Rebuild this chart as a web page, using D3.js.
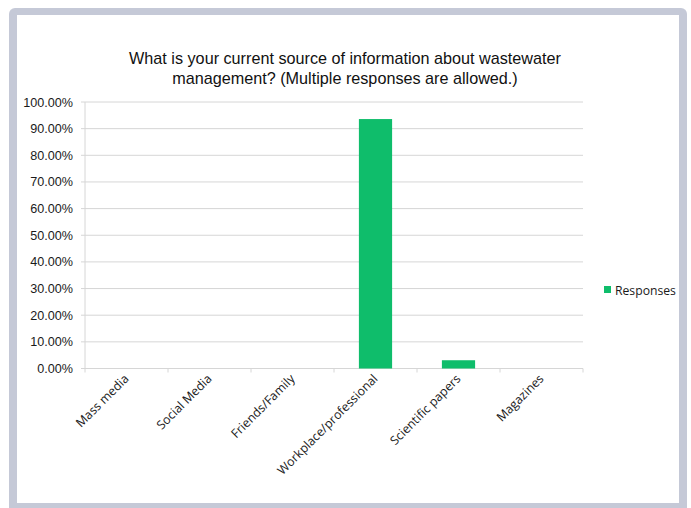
<!DOCTYPE html>
<html>
<head>
<meta charset="utf-8">
<script src="https://cdn.jsdelivr.net/npm/d3@7"></script>
<style>
  html, body { margin: 0; padding: 0; background: #ffffff; }
  svg { display: block; }
</style>
</head>
<body>
<svg id="chart" width="691" height="508"></svg>
<script>
// Survey data: share of respondents per information source
const categories = ["Mass media", "Social Media", "Friends/Family", "Workplace/professional", "Scientific papers", "Magazines"];
const responses = [0, 0, 0, 93.6, 3.1, 0];
const yTicks = [0, 10, 20, 30, 40, 50, 60, 70, 80, 90, 100];
const titleLines = ["What is your current source of information about wastewater", "management? (Multiple responses are allowed.)"];
const seriesName = "Responses";

const svg = d3.select("#chart");
const W = 691, H = 508;

// Frame around the chart panel
svg.append("rect").attr("x", 0).attr("y", 0).attr("width", W).attr("height", H).attr("fill", "#ffffff");
svg.append("rect").attr("x", 9).attr("y", 8).attr("width", 678).attr("height", 510)
  .attr("rx", 6).attr("fill", "#c5c9d7");
svg.append("rect").attr("x", 17).attr("y", 15).attr("width", 662).attr("height", 488)
  .attr("fill", "#ffffff");

const margin = { left: 85, right: 583, top: 102, bottom: 368.5 };

const x = d3.scaleBand().domain(categories).range([margin.left, margin.right]).paddingInner(0.6).paddingOuter(0.3);
const xb = d3.scaleBand().domain(categories).range([margin.left, margin.right]);
const y = d3.scaleLinear().domain([0, 100]).range([margin.bottom, margin.top]);

// Gridlines
svg.append("g").selectAll("line").data(yTicks).join("line")
  .attr("x1", margin.left - 4).attr("x2", margin.right)
  .attr("y1", d => y(d)).attr("y2", d => y(d))
  .attr("stroke", "#d6d6d6").attr("stroke-width", 1);

// Vertical axis line
svg.append("line").attr("x1", margin.left).attr("x2", margin.left)
  .attr("y1", margin.top).attr("y2", margin.bottom)
  .attr("stroke", "#d6d6d6");

// Y tick labels
svg.append("g").selectAll("text").data(yTicks).join("text")
  .attr("x", margin.left - 12).attr("y", d => y(d) + 4.5)
  .attr("text-anchor", "end")
  .attr("font-family", "Liberation Sans, Arial, sans-serif").attr("font-size", 12.6)
  .attr("fill", "#1a1a1a").text(d => d.toFixed(2) + "%");

// Category ticks on the x axis
svg.append("g").selectAll("line").data(categories.concat(["end"])).join("line")
  .attr("x1", (d, i) => margin.left + i * xb.step())
  .attr("x2", (d, i) => margin.left + i * xb.step())
  .attr("y1", margin.bottom).attr("y2", margin.bottom + 4)
  .attr("stroke", "#d6d6d6");

// Bars
svg.append("g").selectAll("rect").data(categories).join("rect")
  .attr("x", d => x(d))
  .attr("width", x.bandwidth())
  .attr("y", (d, i) => y(responses[i]))
  .attr("height", (d, i) => y(0) - y(responses[i]))
  .attr("fill", "#0fbd6b");

// Category labels, rotated
svg.append("g").selectAll("text").data(categories).join("text")
  .attr("transform", d => `translate(${xb(d) + xb.bandwidth() / 2 + 3},${margin.bottom + 11}) rotate(-45)`)
  .attr("text-anchor", "end")
  .attr("font-family", "Open Sans, sans-serif").attr("font-size", 12.3)
  .attr("fill", "#1a1a1a").text(d => d);

// Title
svg.append("g").selectAll("text").data(titleLines).join("text")
  .attr("x", 345).attr("y", (d, i) => 64 + i * 20)
  .attr("text-anchor", "middle")
  .attr("font-family", "Liberation Sans, Arial, sans-serif").attr("font-size", 16.2)
  .attr("fill", "#111").text(d => d);

// Legend
svg.append("rect").attr("x", 604).attr("y", 286).attr("width", 7).attr("height", 7).attr("fill", "#0fbd6b");
svg.append("text").attr("x", 615).attr("y", 294.5)
  .attr("font-family", "Open Sans, sans-serif").attr("font-size", 12.2)
  .attr("fill", "#1a1a1a").text(seriesName);
</script>
</body>
</html>
